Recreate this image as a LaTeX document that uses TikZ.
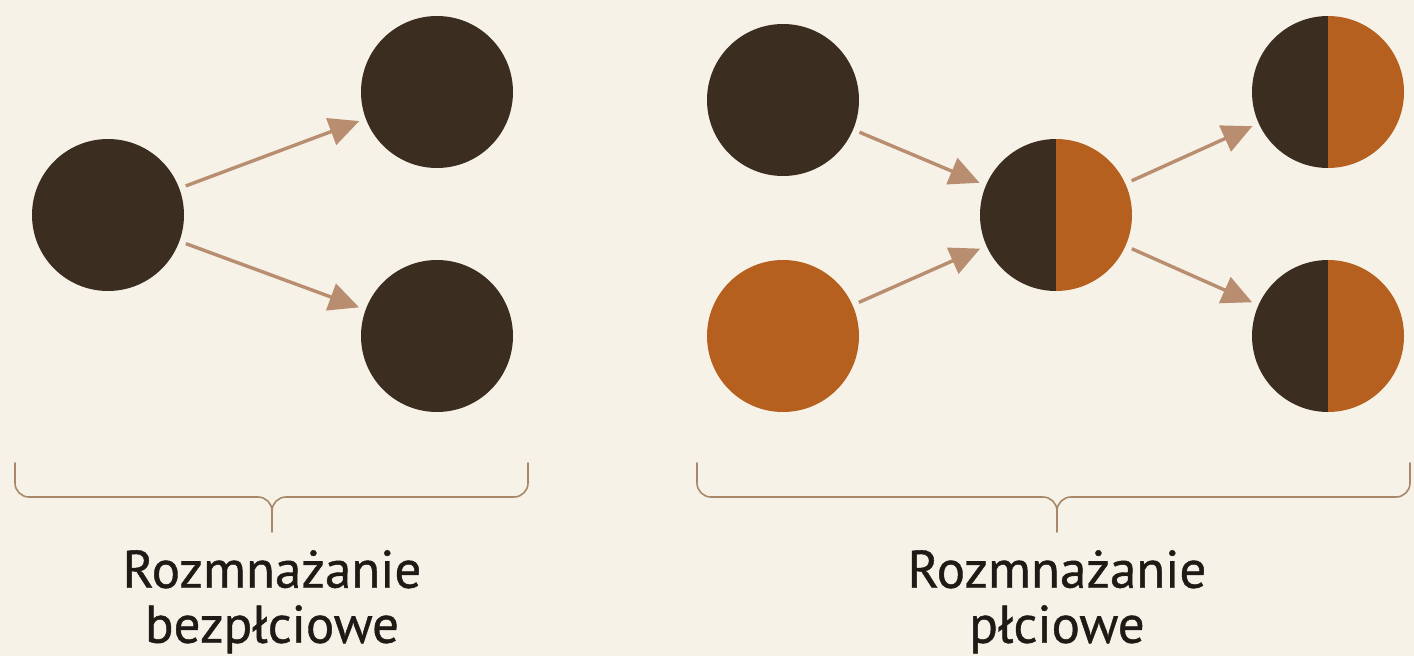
\documentclass[tikz,border=0pt]{standalone}
\usepackage{fontspec}
\setmainfont{PT Sans}[FakeBold=0.8]
\usetikzlibrary{arrows.meta}
\definecolor{bg}{HTML}{F6F2E7}
\definecolor{darkc}{HTML}{3C2D21}
\definecolor{orangec}{HTML}{B5601F}
\definecolor{arrc}{HTML}{B98E70}
\definecolor{bracec}{HTML}{A88868}
\definecolor{textc}{HTML}{1E1A16}
\tikzset{
  cell/.style={circle, minimum size=152pt, inner sep=0pt, outer sep=0pt},
  darkcell/.style={cell, fill=darkc},
  orangecell/.style={cell, fill=orangec},
  arr/.style={arrc, line width=3.4pt, shorten <=7pt, shorten >=7pt,
    -{Triangle[length=30pt,width=28pt]}},
  bracepath/.style={bracec, line width=1.6pt, line cap=round},
  lbl/.style={text=textc, align=center, inner sep=0pt,
    font=\fontsize{53}{55}\selectfont}
}
\begin{document}
\begin{tikzpicture}[x=1pt,y=1pt]
\fill[bg] (0,0) rectangle (1414,-656);
\useasboundingbox (0,0) rectangle (1414,-656);
% asexual
\node[darkcell] (p) at (108,-215) {};
\node[darkcell] (c1) at (437,-92) {};
\node[darkcell] (c2) at (437,-336) {};
\draw[arr] (p) -- (c1);
\draw[arr] (p) -- (c2);
% sexual
\node[darkcell] (f) at (783,-100) {};
\node[orangecell] (m) at (783,-336) {};
\node[cell] (z) at (1056,-215) {};
\fill[darkc] (z.north) arc[start angle=90,end angle=270,radius=76pt] -- cycle;
\fill[orangec] (z.south) arc[start angle=-90,end angle=90,radius=76pt] -- cycle;
\node[cell] (o1) at (1328,-92) {};
\fill[darkc] (o1.north) arc[start angle=90,end angle=270,radius=76pt] -- cycle;
\fill[orangec] (o1.south) arc[start angle=-90,end angle=90,radius=76pt] -- cycle;
\node[cell] (o2) at (1328,-336) {};
\fill[darkc] (o2.north) arc[start angle=90,end angle=270,radius=76pt] -- cycle;
\fill[orangec] (o2.south) arc[start angle=-90,end angle=90,radius=76pt] -- cycle;
\draw[arr] (f) -- (z);
\draw[arr] (m) -- (z);
\draw[arr] (z) -- (o1);
\draw[arr] (z) -- (o2);
% braces
\coordinate (b1l) at (15,-463);
\coordinate (b1r) at (528,-463);
\coordinate (b1t) at (272,-532);
\draw[bracepath] (b1l) -- ++(0,-20) to[out=-90,in=180] ++(14,-14)
  -- (258,-497) to[out=0,in=90] (272,-511) -- (b1t);
\draw[bracepath] (b1r) -- ++(0,-20) to[out=-90,in=0] ++(-14,-14)
  -- (286,-497) to[out=180,in=90] (272,-511);
\coordinate (b2l) at (697,-463);
\coordinate (b2r) at (1410,-463);
\coordinate (b2t) at (1057,-532);
\draw[bracepath] (b2l) -- ++(0,-20) to[out=-90,in=180] ++(14,-14)
  -- (1043,-497) to[out=0,in=90] (1057,-511) -- (b2t);
\draw[bracepath] (b2r) -- ++(0,-20) to[out=-90,in=0] ++(-14,-14)
  -- (1071,-497) to[out=180,in=90] (1057,-511);
% labels
\node[lbl, anchor=north] (t1) at (272,-550) {Rozmnażanie\\bezpłciowe};
\node[lbl, anchor=north] (t2) at (1057,-550) {Rozmnażanie\\płciowe};
\end{tikzpicture}
\end{document}
